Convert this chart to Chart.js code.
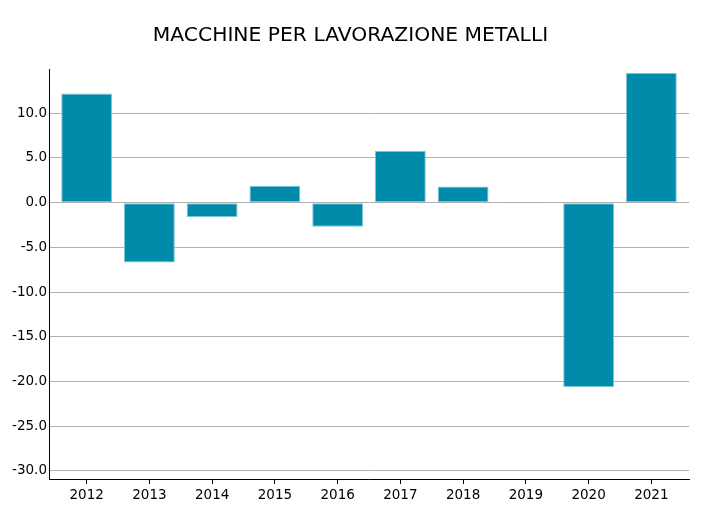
<!DOCTYPE html>
<html>
<head>
<meta charset="utf-8">
<script src="https://cdn.jsdelivr.net/npm/chart.js@4/dist/chart.umd.min.js"></script>
<style>
  html, body { margin: 0; padding: 0; background: #ffffff; }
  #wrap { width: 710px; height: 519px; }
</style>
</head>
<body>
<div id="wrap"><canvas id="c" width="710" height="519"></canvas></div>
<script>
const chartTitle = "MACCHINE PER LAVORAZIONE METALLI";
const years = ["2012", "2013", "2014", "2015", "2016", "2017", "2018", "2019", "2020", "2021"];
const values = [12.2, -6.7, -1.6, 1.9, -2.7, 5.8, 1.8, -0.1, -20.6, 14.5];
const yMin = -30.9;
const yMax = 14.9;
const yStep = 5;

const FONT = "'DejaVu Sans', sans-serif";

const points = values.map((v, i) => ({ x: i, y: v }));

new Chart(document.getElementById('c'), {
  type: 'bar',
  data: {
    datasets: [{
      data: points,
      backgroundColor: '#008BAA',
      borderColor: '#7FC6D6',
      borderWidth: 1,
      borderSkipped: false,
      categoryPercentage: 1.0,
      barPercentage: 0.81
    }]
  },
  options: {
    responsive: false,
    animation: false,
    devicePixelRatio: 1,
    layout: { padding: { left: 12, right: 21, top: 0, bottom: 0 } },
    plugins: {
      legend: { display: false },
      tooltip: { enabled: false },
      title: {
        display: true,
        text: chartTitle,
        color: '#000000',
        font: { family: FONT, size: 20.3, weight: 'normal' },
        padding: { top: 24, bottom: 21 }
      }
    },
    scales: {
      x: {
        type: 'linear',
        min: -0.6,
        max: years.length - 0.4,
        offset: false,
        afterBuildTicks: (s) => {
          s.ticks = years.map((y, i) => ({ value: i }));
        },
        grid: {
          display: true,
          offset: false,
          drawOnChartArea: false,
          drawTicks: true,
          tickLength: 5,
          color: '#000000',
          lineWidth: 1
        },
        border: { display: true, color: '#000000', width: 1 },
        ticks: {
          color: '#000000',
          font: { family: FONT, size: 13.5 },
          padding: 3,
          maxRotation: 0,
          autoSkip: false,
          callback: (v) => years[Math.round(v)]
        },
        afterFit: (s) => { s.height = 40; }
      },
      y: {
        min: yMin,
        max: yMax,
        ticks: {
          color: '#000000',
          font: { family: FONT, size: 13.5 },
          padding: 2,
          callback: (v) => Number(v).toFixed(1)
        },
        afterBuildTicks: (s) => {
          const t = [];
          for (let v = Math.ceil(yMin / yStep) * yStep; v <= yMax + 1e-9; v += yStep) t.push({ value: v });
          s.ticks = t;
        },
        grid: {
          color: '#b0b0b0',
          lineWidth: 1,
          drawTicks: false
        },
        border: { display: true, color: '#000000', width: 1 },
        afterFit: (s) => { s.width = 37; }
      }
    }
  }
});
</script>
</body>
</html>
